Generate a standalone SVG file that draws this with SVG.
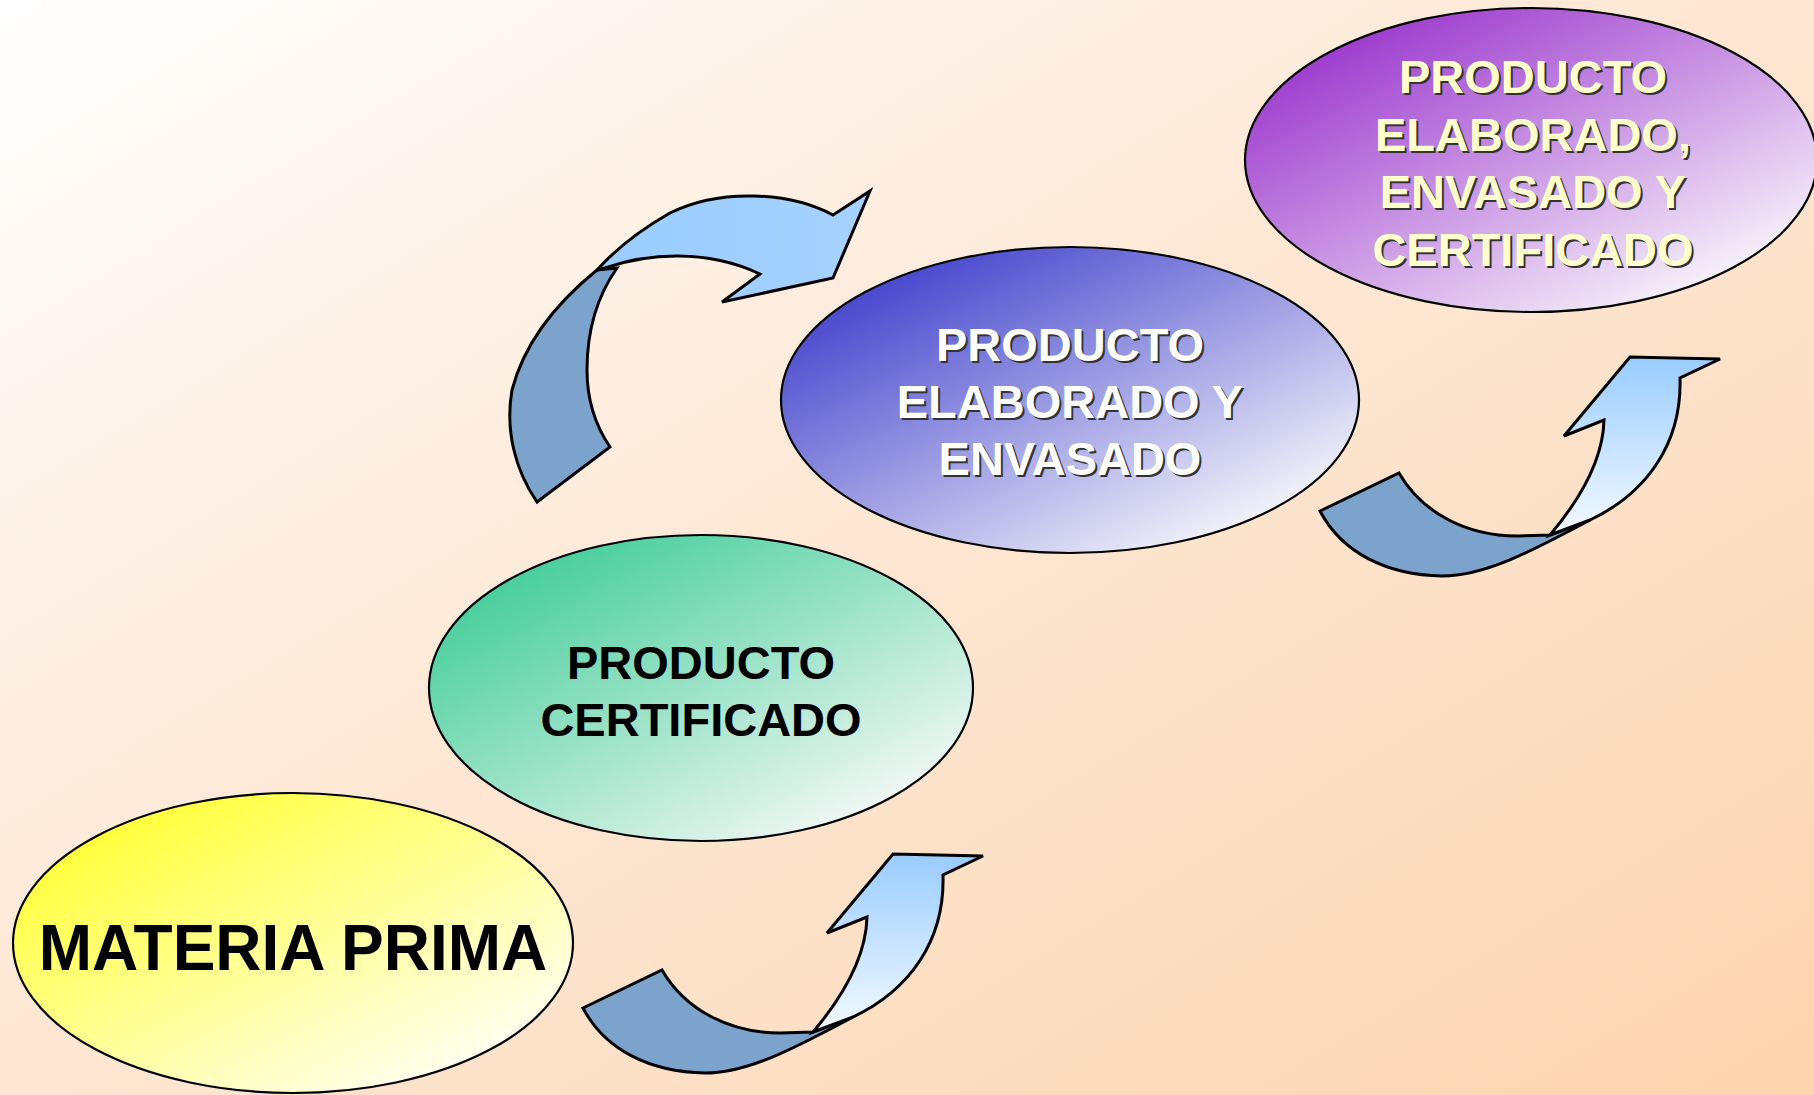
<svg xmlns="http://www.w3.org/2000/svg" width="1814" height="1095" viewBox="0 0 1814 1095">
<style>
.ell{stroke:#000;stroke-width:2.2}
.arr{stroke:#000;stroke-width:3;stroke-linejoin:miter}
.dark{fill:#7BA3CB}
.t{font-family:"Liberation Sans",Arial,sans-serif;font-weight:bold;text-anchor:middle}
.blk{fill:#000}
.wht{fill:#FFFFFF}
.yel{fill:#FFFFCC}
.sh{fill:#333333}
</style>
<defs>
<linearGradient id="bg" x1="0" y1="0" x2="1" y2="1">
<stop offset="0" stop-color="#FFFFFF"/>
<stop offset="0.45" stop-color="#FDE8D6"/>
<stop offset="1" stop-color="#FCD4AE"/>
</linearGradient>
<linearGradient id="gY" x1="0.1" y1="0.1" x2="0.85" y2="0.9">
<stop offset="0" stop-color="#FFFF33"/>
<stop offset="1" stop-color="#FFFFF4"/>
</linearGradient>
<linearGradient id="gG" x1="0.1" y1="0.1" x2="0.85" y2="0.9">
<stop offset="0" stop-color="#3FCC98"/>
<stop offset="1" stop-color="#F4F8F6"/>
</linearGradient>
<linearGradient id="gB" x1="0.1" y1="0.1" x2="0.85" y2="0.9">
<stop offset="0" stop-color="#3F3FCC"/>
<stop offset="1" stop-color="#F6F6FA"/>
</linearGradient>
<linearGradient id="gP" x1="0.1" y1="0.1" x2="0.85" y2="0.9">
<stop offset="0" stop-color="#9933CC"/>
<stop offset="1" stop-color="#F8F4FA"/>
</linearGradient>
<linearGradient id="gL" x1="0" y1="0" x2="0" y2="1">
<stop offset="0" stop-color="#99CCFF"/>
<stop offset="1" stop-color="#F4F9FF"/>
</linearGradient>
<linearGradient id="gL2" x1="0" y1="0" x2="1" y2="0">
<stop offset="0" stop-color="#99CCFF"/>
<stop offset="1" stop-color="#A6D2FF"/>
</linearGradient>
</defs>
<rect width="1814" height="1095" fill="url(#bg)"/>
<g id="connectors">
<g id="arrow-1">
<path class="arr dark" d="M583,1008 L662,970 C685,1010 730,1033 780,1033 L813,1032 L853,1017 C800,1045 750,1073 705,1073 C650,1072 605,1050 583,1008 Z"/>
<path class="arr" fill="url(#gL)" d="M813,1032 C840,1000 866,960 867,917 L827,933 L893,854 L983,856 L943,875 C945,940 910,990 853,1017 Z"/>
</g>
<g id="arrow-2" transform="translate(737,-497)">
<path class="arr dark" d="M583,1008 L662,970 C685,1010 730,1033 780,1033 L813,1032 L853,1017 C800,1045 750,1073 705,1073 C650,1072 605,1050 583,1008 Z"/>
<path class="arr" fill="url(#gL)" d="M813,1032 C840,1000 866,960 867,917 L827,933 L893,854 L983,856 L943,875 C945,940 910,990 853,1017 Z"/>
</g>
<g id="arrow-3">
<path class="arr dark" d="M597,270 C560,300 525,340 512,390 C505,430 515,470 537,502 L610,447 C595,425 587,400 587,370 C587,330 598,295 617,268 Z"/>
<path class="arr" fill="url(#gL2)" d="M605,268 C645,254 705,248 760,274 L722,302 L833,278 L870,191 L833,215 C790,192 720,188 670,213 C640,230 615,250 597,270 Z"/>
</g>
</g>
<g id="node-materia-prima">
<ellipse class="ell" cx="293" cy="943" rx="280" ry="150" fill="url(#gY)"/>
<text class="t blk" x="293" y="970" font-size="64">MATERIA PRIMA</text>
</g>
<g id="node-producto-certificado">
<ellipse class="ell" cx="701" cy="688" rx="272" ry="153" fill="url(#gG)"/>
<text class="t blk" x="701" y="679" font-size="47">PRODUCTO</text>
<text class="t blk" x="701" y="736" font-size="47">CERTIFICADO</text>
</g>
<g id="node-elaborado-envasado">
<ellipse class="ell" cx="1070" cy="400" rx="289" ry="153" fill="url(#gB)"/>
<g class="t sh" font-size="47">
<text x="1072" y="363">PRODUCTO</text>
<text x="1072" y="420">ELABORADO Y</text>
<text x="1072" y="477">ENVASADO</text>
</g>
<g class="t wht" font-size="47">
<text x="1070" y="361">PRODUCTO</text>
<text x="1070" y="418">ELABORADO Y</text>
<text x="1070" y="475">ENVASADO</text>
</g>
</g>
<g id="node-elaborado-envasado-certificado">
<ellipse class="ell" cx="1531" cy="160" rx="286" ry="152" fill="url(#gP)"/>
<g class="t sh" font-size="47">
<text x="1535" y="95">PRODUCTO</text>
<text x="1535" y="153">ELABORADO,</text>
<text x="1535" y="210">ENVASADO Y</text>
<text x="1535" y="268">CERTIFICADO</text>
</g>
<g class="t yel" font-size="47">
<text x="1533" y="93">PRODUCTO</text>
<text x="1533" y="151">ELABORADO,</text>
<text x="1533" y="208">ENVASADO Y</text>
<text x="1533" y="266">CERTIFICADO</text>
</g>
</g>
</svg>
